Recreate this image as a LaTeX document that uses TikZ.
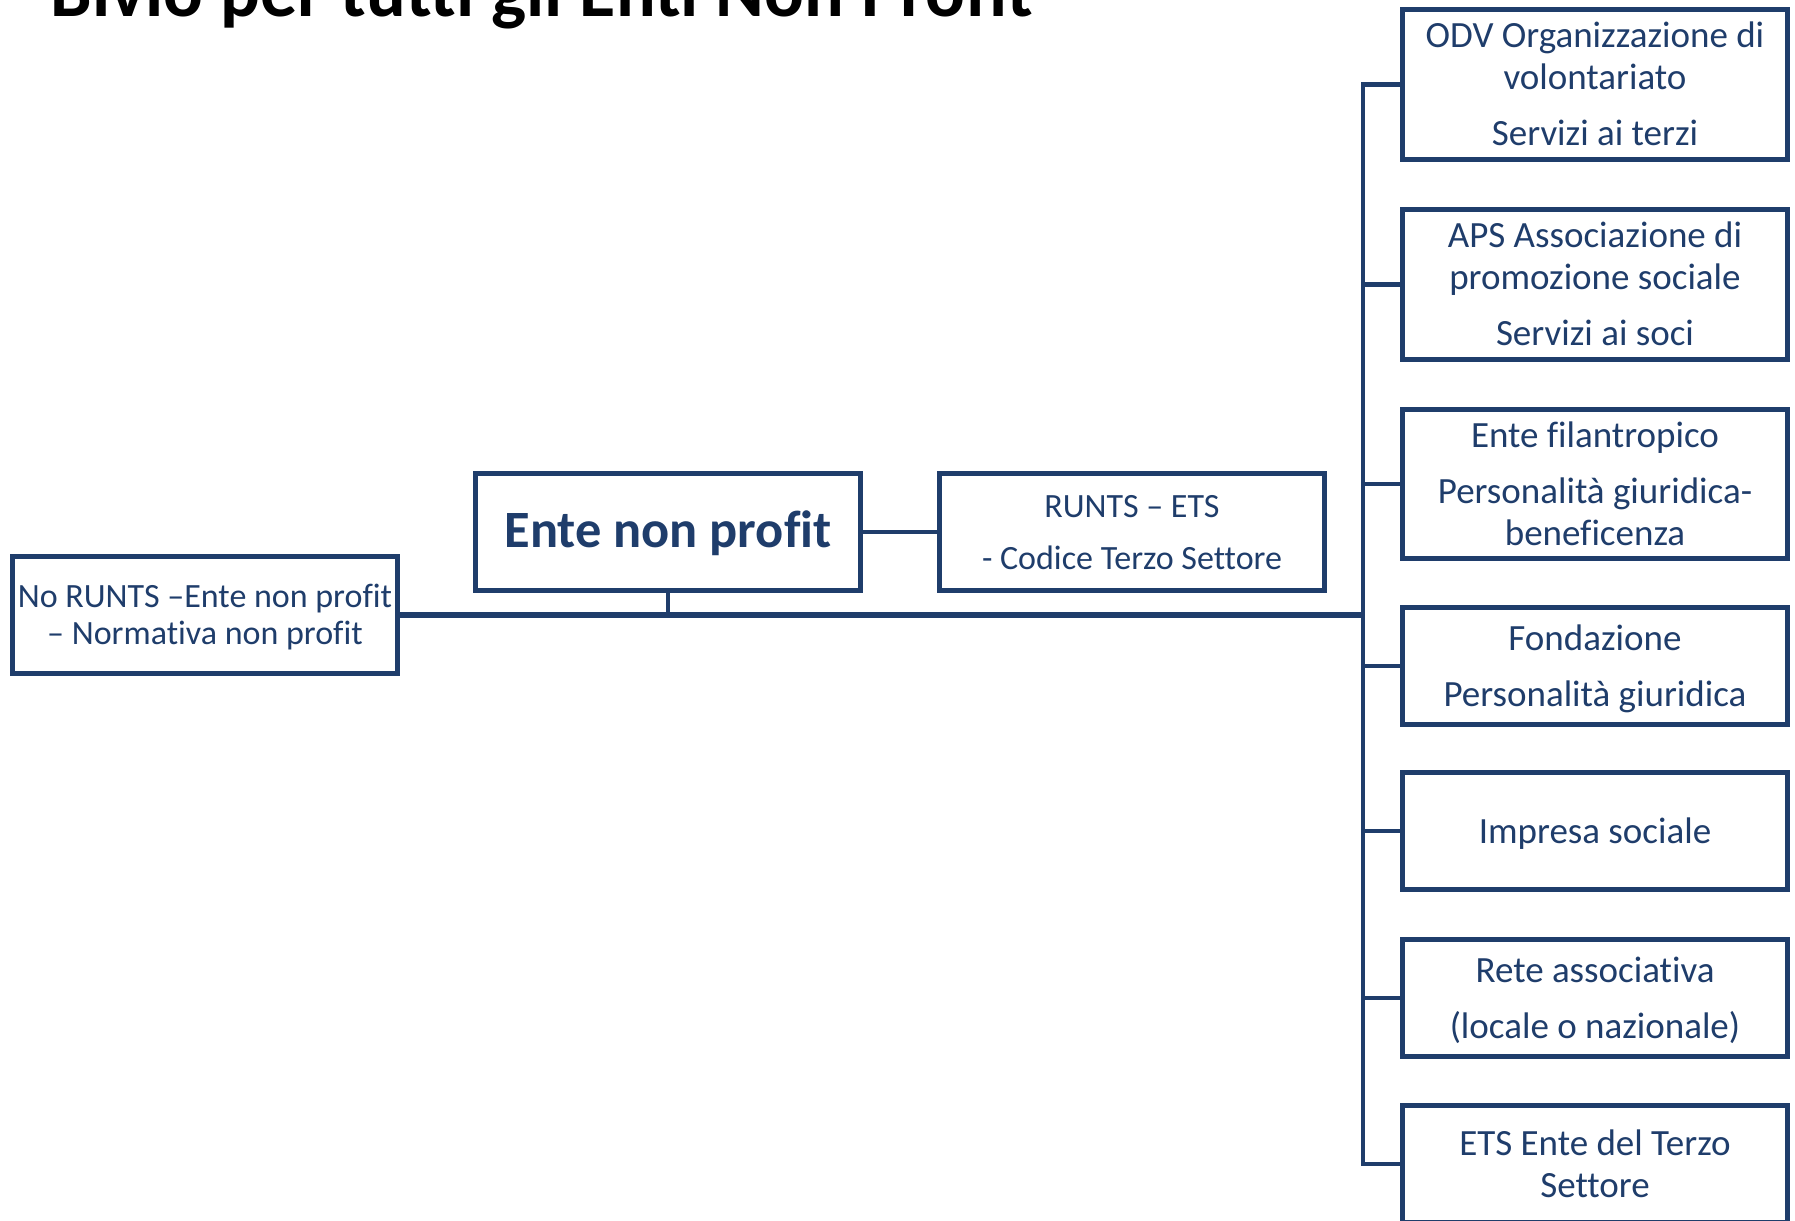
\documentclass[tikz,border=0pt]{standalone}
\usepackage{fontspec}
\setmainfont{Carlito}[Ligatures={NoCommon}]
\definecolor{navy}{RGB}{31,61,107}
\newcommand\mystrut{\rule[-0.2\baselineskip]{0pt}{\baselineskip}}
\tikzset{
  box/.style={draw=navy, line width=4.7pt, text=navy, align=center, inner sep=0pt, minimum width=385pt},
  conn/.style={draw=navy, line width=4.7pt},
  mainline/.style={draw=navy, line width=5.7pt},
  rtxt/.style={font=\fontsize{37}{41.5}\selectfont},
  stxt/.style={font=\fontsize{34}{37}\selectfont},
  btxt/.style={font=\fontsize{52.4}{79}\selectfont\bfseries},
  ttxt/.style={font=\fontsize{74.1}{80}\selectfont\bfseries, text=black, inner sep=0pt},
}
\begin{document}
\begin{tikzpicture}[x=1pt,y=-1pt]
\path[use as bounding box, clip] (0,0) rectangle (1795,1220);
\fill[white] (0,0) rectangle (1795,1220);
\node[ttxt, anchor=base west] (title) at (50.5,17) {Bivio per tutti gli Enti Non Profit};

\node[box, stxt, minimum height=117pt] (nr) at (205,615) {\mystrut No RUNTS –Ente non profit\\\mystrut – Normativa non profit};
\node[box, btxt, minimum height=117pt] (ente) at (668,532) {\strut Ente non profit};
\node[box, stxt, minimum height=117pt] (runts) at (1132,532) {\mystrut RUNTS – ETS\\[15pt]\mystrut - Codice Terzo Settore};

\node[box, rtxt, minimum height=150pt] (odv) at (1595,84.5) {\mystrut ODV Organizzazione di\\\mystrut volontariato\\[15pt]\mystrut Servizi ai terzi};
\node[box, rtxt, minimum height=150pt] (aps) at (1595,284.5) {\mystrut APS Associazione di\\\mystrut promozione sociale\\[15pt]\mystrut Servizi ai soci};
\node[box, rtxt, minimum height=149pt] (fil) at (1595,484) {\mystrut Ente filantropico\\[15pt]\mystrut Personalità giuridica-\\\mystrut beneficenza};
\node[box, rtxt, minimum height=117pt] (fon) at (1595,666) {\mystrut Fondazione\\[15pt]\mystrut Personalità giuridica};
\node[box, rtxt, minimum height=117pt] (imp) at (1595,831) {\mystrut Impresa sociale};
\node[box, rtxt, minimum height=117pt] (rete) at (1595,998) {\mystrut Rete associativa\\[15pt]\mystrut (locale o nazionale)};
\node[box, rtxt, minimum height=117pt] (ets) at (1595,1164) {\mystrut ETS Ente del Terzo\\\mystrut Settore};

\coordinate (t) at (1363,615);
\draw[mainline] (nr.east) -- (t);
\draw[conn] (ente.south) -- (ente.south |- t);
\draw[conn] (ente.east) -- (runts.west);
\foreach \b in {odv,aps,fil,fon,imp,rete,ets}
  \draw[conn] (\b.west) -| (t);
\end{tikzpicture}
\end{document}
